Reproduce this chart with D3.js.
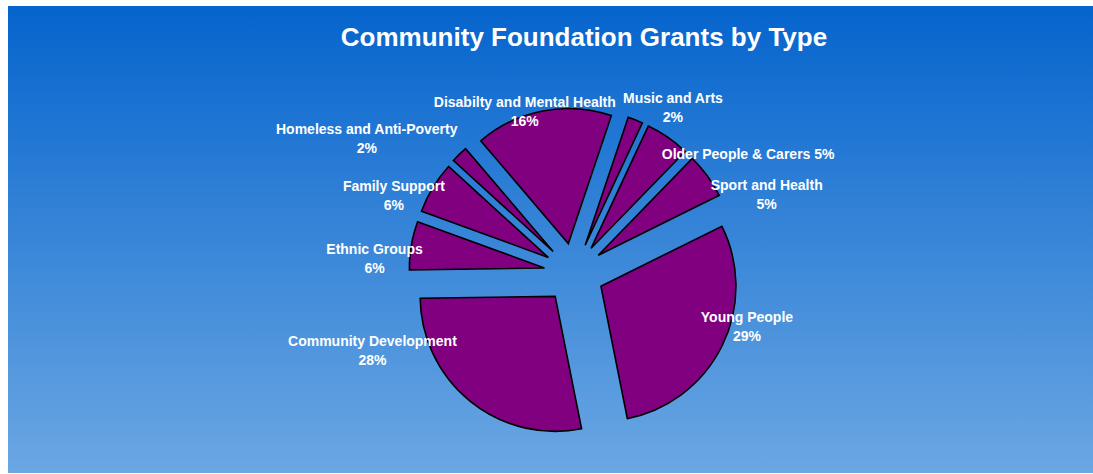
<!DOCTYPE html>
<html>
<head>
<meta charset="utf-8">
<script src="https://cdn.jsdelivr.net/npm/d3@7"></script>
<style>
  body { margin: 0; background: #fff; }
  svg { display: block; font-family: "Liberation Sans", Arial, sans-serif; }
</style>
</head>
<body>
<svg id="chart" width="1093" height="474"></svg>
<script>
// grant shares, going clockwise from Music and Arts
let categories = [
  'Music and Arts',
  'Older People & Carers',
  'Sport and Health',
  'Young People',
  'Community Development',
  'Ethnic Groups',
  'Family Support',
  'Homeless and Anti-Poverty',
  'Disabilty and Mental Health'
];
let shares = [1.8, 5.3, 5.4, 29.2, 27.9, 5.8, 6.2, 2.0, 16.4];

// label placement: [shift from slice middle in degrees, distance from centre]
let labelPlace = {
  'Music and Arts': [9, 193],
  'Older People & Carers': [21, 211],
  'Sport and Health': [14, 208],
  'Young People': [-9, 181],
  'Community Development': [30, 216],
  'Ethnic Groups': [-5.5, 200],
  'Family Support': [-8, 196],
  'Homeless and Anti-Poverty': [-13, 247],
  'Disabilty and Mental Health': [-6, 169]
};
// these ones have the percent on the same line
let oneLine = ['Older People & Carers'];

let width = 1093, height = 474;
let cx = 574, cy = 273, radius = 135, explode = 30;
let rad = Math.PI / 180;

let svg = d3.select('#chart');

let grad = svg.append('defs').append('linearGradient')
  .attr('id', 'bg')
  .attr('x1', 0).attr('y1', 0).attr('x2', 0).attr('y2', 1);
grad.append('stop').attr('offset', '0%').attr('stop-color', '#0564cd');
grad.append('stop').attr('offset', '100%').attr('stop-color', '#6ba7e3');

svg.append('rect')
  .attr('x', 8).attr('y', 6)
  .attr('width', width - 8).attr('height', height - 7)
  .attr('fill', 'url(#bg)');

svg.append('text')
  .attr('x', 584).attr('y', 46)
  .attr('text-anchor', 'middle')
  .attr('fill', '#fff')
  .style('font-size', '26px')
  .style('font-weight', 'bold')
  .text('Community Foundation Grants by Type');

let data = categories.map((c, i) => ({ name: c, value: shares[i] }));

let pie = d3.pie()
  .value(d => d.value)
  .sort(null)
  .startAngle(18.6 * rad)
  .endAngle(18.6 * rad + 2 * Math.PI);

let arc = d3.arc().innerRadius(0).outerRadius(radius);

let arcs = pie(data);

let g = svg.append('g').attr('transform', `translate(${cx},${cy})`);

g.selectAll('path.slice')
  .data(arcs)
  .enter()
  .append('path')
  .attr('class', 'slice')
  .attr('transform', function(d) {
    let a = (d.startAngle + d.endAngle) / 2;
    return `translate(${explode * Math.sin(a)},${-explode * Math.cos(a)})`;
  })
  .attr('d', arc)
  .attr('fill', '#800080')
  .attr('stroke', '#000')
  .attr('stroke-width', 1.6)
  .attr('stroke-linejoin', 'miter');

let labels = g.selectAll('text.lbl')
  .data(arcs)
  .enter()
  .append('text')
  .attr('class', 'lbl')
  .attr('text-anchor', 'middle')
  .attr('fill', '#fff')
  .style('font-size', '14px')
  .style('font-weight', 'bold')
  .attr('transform', function(d) {
    let p = labelPlace[d.data.name];
    let a = (d.startAngle + d.endAngle) / 2 + p[0] * rad;
    return `translate(${p[1] * Math.sin(a)},${-p[1] * Math.cos(a)})`;
  });

labels.each(function(d) {
  let t = d3.select(this);
  let pct = Math.round(d.value) + '%';
  if (oneLine.includes(d.data.name)) {
    t.append('tspan').attr('x', 0).attr('dy', '0.35em').text(d.data.name + ' ' + pct);
  } else {
    t.append('tspan').attr('x', 0).attr('y', -9.5).attr('dy', '0.35em').text(d.data.name);
    t.append('tspan').attr('x', 0).attr('y', 9.5).attr('dy', '0.35em').text(pct);
  }
});
</script>
</body>
</html>
